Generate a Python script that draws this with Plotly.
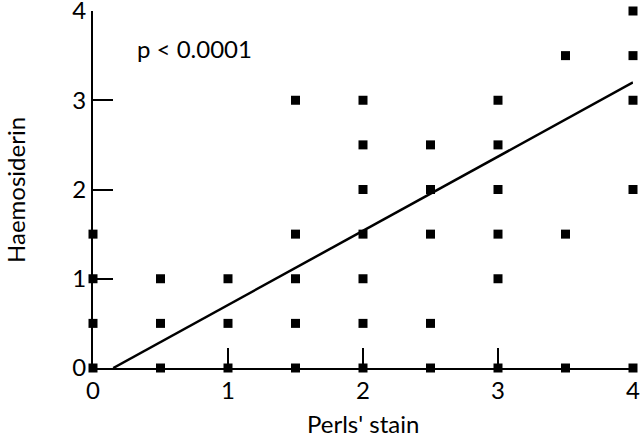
import plotly.graph_objects as go

# Perls' stain (x) vs Haemosiderin (y) observations
perls = [0, 0, 0, 0,
         0.5, 0.5, 0.5,
         1, 1, 1,
         1.5, 1.5, 1.5, 1.5, 1.5,
         2, 2, 2, 2, 2, 2, 2,
         2.5, 2.5, 2.5, 2.5, 2.5,
         3, 3, 3, 3, 3, 3,
         3.5, 3.5, 3.5,
         4, 4, 4, 4, 4]
haemosiderin = [0, 0.5, 1, 1.5,
                0, 0.5, 1,
                0, 0.5, 1,
                0, 0.5, 1, 1.5, 3,
                0, 0.5, 1, 1.5, 2, 2.5, 3,
                0, 0.5, 1.5, 2, 2.5,
                0, 1, 1.5, 2, 2.5, 3,
                0, 1.5, 3.5,
                0, 2, 3, 3.5, 4]

# Regression line end points
fit_x = [0.15, 4]
fit_y = [0.0, 3.2]

tick_vals = [0, 1, 2, 3, 4]
tick_text = ["0", "1", "2", "3", "4"]

font_family = "Lato, 'Noto Sans', sans-serif"
FS = 24

L, R, T, B = 93, 7, 11, 70
W, H = 640, 438
pw, ph = W - L - R, H - T - B

fig = go.Figure()
fig.add_trace(go.Scatter(x=fit_x, y=fit_y, mode="lines",
                         line=dict(color="black", width=2.5),
                         showlegend=False, cliponaxis=False))
fig.add_trace(go.Scatter(x=perls, y=haemosiderin, mode="markers",
                         marker=dict(symbol="square", size=9, color="black"),
                         showlegend=False, cliponaxis=False))

fig.add_annotation(x=0.31, y=3.58, xref="x", yref="y", text="p < 0.0001",
                   showarrow=False, xanchor="left", yanchor="middle",
                   font=dict(size=FS, color="black", family=font_family))

# axis titles placed by pixel position, converted to paper fractions
fig.add_annotation(x=(363 - L) / pw, y=(438 - 424 - B) / ph, xref="paper", yref="paper",
                   text="Perls' stain", showarrow=False, xanchor="center", yanchor="middle",
                   font=dict(size=FS, color="black", family=font_family))
fig.add_annotation(x=(15 - L) / pw, y=(438 - 190 - B) / ph, xref="paper", yref="paper",
                   text="Haemosiderin", showarrow=False, xanchor="center", yanchor="middle",
                   textangle=-90, font=dict(size=FS, color="black", family=font_family))

fig.update_xaxes(range=[0, 4], tickvals=tick_vals, ticktext=tick_text,
                 ticks="inside", ticklen=20, tickwidth=1.5, tickcolor="black",
                 showline=True, linecolor="black", linewidth=2,
                 showgrid=False, zeroline=False, automargin=False,
                 ticklabeloverflow="allow",
                 tickfont=dict(size=FS, family=font_family, color="black"))
fig.update_yaxes(range=[0, 4], tickvals=tick_vals, ticktext=tick_text,
                 ticks="inside", ticklen=20, tickwidth=1.5, tickcolor="black",
                 showline=True, linecolor="black", linewidth=2,
                 showgrid=False, zeroline=False, automargin=False,
                 ticklabeloverflow="allow",
                 tickfont=dict(size=FS, family=font_family, color="black"))

fig.update_layout(width=W, height=H,
                  margin=dict(l=L, r=R, t=T, b=B),
                  plot_bgcolor="white", paper_bgcolor="white",
                  font=dict(family=font_family, color="black"))

fig.write_html("out.html", config={"displayModeBar": False},
               post_script="document.body.style.margin='0';")
